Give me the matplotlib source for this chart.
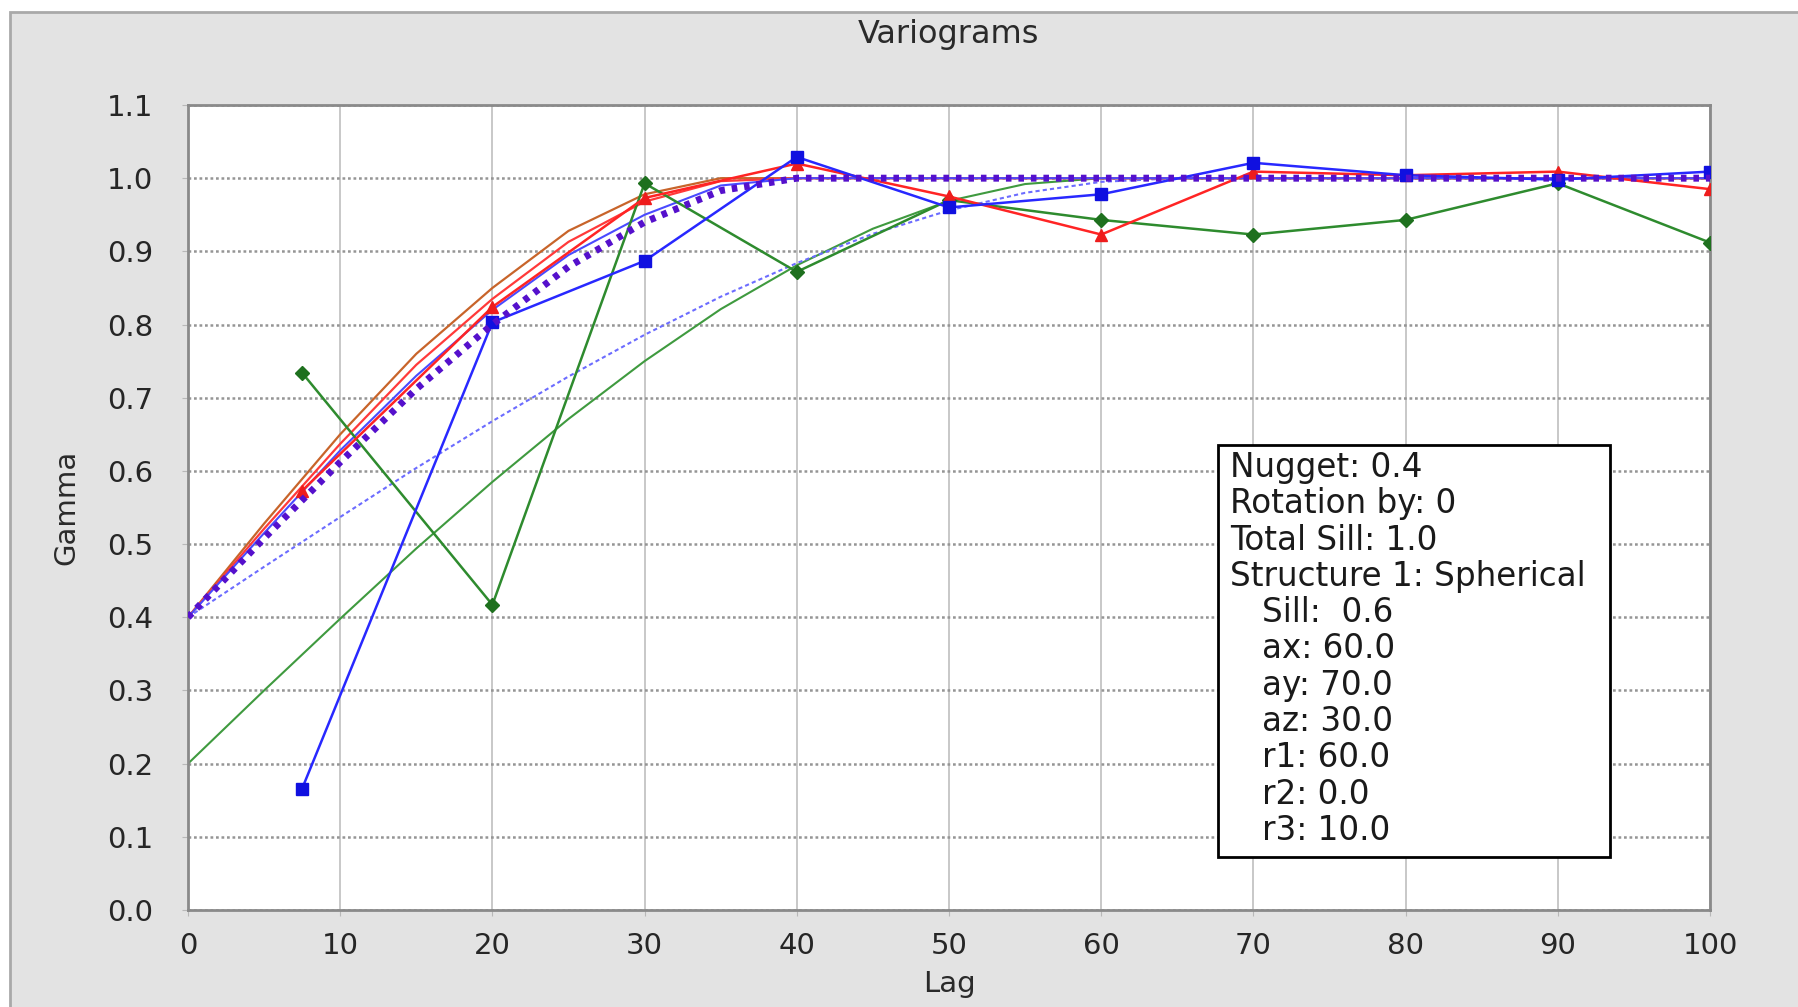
import matplotlib
matplotlib.use("Agg")
import matplotlib.pyplot as plt
from matplotlib.patches import Rectangle

# ---------------- data ----------------
exp_lags = [7.5, 20, 30, 40, 50, 60, 70, 80, 90, 100]
exp_red = [0.573, 0.824, 0.973, 1.020, 0.975, 0.923, 1.009, 1.004, 1.009, 0.985]
exp_blue = [0.166, 0.803, 0.887, 1.029, 0.960, 0.978, 1.021, 1.004, 0.998, 1.009]
exp_green = [0.734, 0.417, 0.993, 0.872, 0.970, 0.943, 0.923, 0.943, 0.993, 0.912]

model_lags = [0, 5, 10, 15, 20, 25, 30, 35, 40, 45, 50, 55, 60, 65, 70, 75, 80, 85, 90, 95, 100]
model_red = [0.400, 0.521, 0.637, 0.745, 0.835, 0.913, 0.968, 0.996, 1.000, 1.000, 1.000,
             1.000, 1.000, 1.000, 1.000, 1.000, 1.000, 1.000, 1.000, 1.000, 1.000]
model_orange = [0.400, 0.528, 0.650, 0.760, 0.850, 0.928, 0.978, 1.000, 1.000, 1.000, 1.000,
                1.000, 1.000, 1.000, 1.000, 1.000, 1.000, 1.000, 1.000, 1.000, 1.000]
model_blue = [0.400, 0.515, 0.628, 0.730, 0.820, 0.895, 0.950, 0.990, 1.000, 1.000, 1.000,
              1.000, 1.000, 1.000, 1.000, 1.000, 1.000, 1.000, 1.000, 1.000, 1.000]
model_purple = [0.400, 0.508, 0.612, 0.712, 0.800, 0.879, 0.940, 0.983, 1.000, 1.000, 1.000,
                1.000, 1.000, 1.000, 1.000, 1.000, 1.000, 1.000, 1.000, 1.000, 1.000]
model_lightblue = [0.400, 0.469, 0.537, 0.604, 0.668, 0.729, 0.786, 0.838, 0.884, 0.924, 0.956,
                   0.980, 0.995, 1.000, 1.000, 1.000, 1.000, 1.000, 1.000, 1.000, 1.000]
model_green = [0.200, 0.300, 0.398, 0.494, 0.585, 0.671, 0.750, 0.821, 0.881, 0.931, 0.969,
               0.992, 1.000, 1.000, 1.000, 1.000, 1.000, 1.000, 1.000, 1.000, 1.000]

x_ticks = [0, 10, 20, 30, 40, 50, 60, 70, 80, 90, 100]
y_ticks = [0.0, 0.1, 0.2, 0.3, 0.4, 0.5, 0.6, 0.7, 0.8, 0.9, 1.0, 1.1]

info_lines = ["Nugget: 0.4", "Rotation by: 0", "Total Sill: 1.0", "Structure 1: Spherical",
              "Sill:  0.6", "ax: 60.0", "ay: 70.0", "az: 30.0", "r1: 60.0", "r2: 0.0", "r3: 10.0"]
info_indent = [False, False, False, False, True, True, True, True, True, True, True]

# ---------------- figure ----------------
W, H = 1798, 1007
fig = plt.figure(figsize=(W / 100, H / 100), dpi=100)
fig.patch.set_facecolor("white")
fig.patches.append(Rectangle((10 / W, -0.01), 1.0, (H - 12) / H + 0.01, transform=fig.transFigure,
                             facecolor="#e3e3e3", edgecolor="#a9a9a9", lw=2, zorder=-10))

ax = fig.add_axes([188 / W, 1 - 910 / H, (1710 - 188) / W, (910 - 105) / H])
ax.set_facecolor("white")

# grid
for xv in x_ticks:
    ax.axvline(xv, color="#c4c4c4", lw=1.3, zorder=0)
for yv in y_ticks:
    ax.axhline(yv, color="#959595", lw=1.8, ls=(0, (1.1, 1.1)), zorder=0)

# model curves
ax.plot(model_lags, model_green, color="#3f9a3f", lw=1.5, zorder=2)
ax.plot(model_lags, model_lightblue, color="#6c6cff", lw=1.5, ls=(0, (2, 1.5)), zorder=2)
ax.plot(model_lags, model_orange, color="#c8642a", lw=1.6, zorder=2)
ax.plot(model_lags, model_red, color="#ff3a3a", lw=1.6, zorder=2)
ax.plot(model_lags, model_blue, color="#4a4aff", lw=1.5, zorder=2)
ax.plot(model_lags, model_purple, color="#5510cc", lw=5.0, ls=(0, (0.8, 1.0)), zorder=4)

# experimental variograms
ax.plot(exp_lags, exp_green, color="#2e8b2e", lw=1.8, marker="D", ms=7.5,
        mfc="#1e701e", mec="#1e701e", zorder=3)
ax.plot(exp_lags, exp_red, color="#ff2424", lw=1.8, marker="^", ms=9,
        mfc="#ee1c1c", mec="#ee1c1c", zorder=3)
ax.plot(exp_lags, exp_blue, color="#2828ff", lw=1.8, marker="s", ms=8,
        mfc="#1010e0", mec="#1010e0", zorder=3)

ax.set_xlim(0, 100)
ax.set_ylim(0, 1.1)
ax.set_xticks(x_ticks)
ax.set_xticklabels([str(v) for v in x_ticks])
ax.set_yticks(y_ticks)
ax.set_yticklabels([f"{v:.1f}" for v in y_ticks])
ax.tick_params(axis="both", length=4, color="#b8b8b8", labelsize=21, labelcolor="#262626")
ax.tick_params(axis="y", pad=21)
ax.tick_params(axis="x", pad=12)
for sp in ax.spines.values():
    sp.set_color("#8a8a8a")
    sp.set_linewidth(2)

# titles / labels
fig.text(949 / W, 1 - 34 / H, "Variograms", ha="center", va="center", fontsize=23, color="#2a2a2a")
fig.text(949 / W, 1 - 984 / H, "Lag", ha="center", va="center", fontsize=21, color="#2a2a2a")
fig.text(66 / W, 1 - 507 / H, "Gamma", ha="center", va="center", rotation=90, fontsize=21,
         color="#2a2a2a")

# info box
fig.patches.append(Rectangle((1218 / W, 1 - 857 / H), (1610 - 1218) / W, (857 - 445) / H,
                             transform=fig.transFigure, facecolor="white", edgecolor="black",
                             lw=2, zorder=5))
base_y = 477
for i, (line, ind) in enumerate(zip(info_lines, info_indent)):
    xpx = 1262 if ind else 1230
    ypx = base_y + i * 36.3
    fig.text(xpx / W, 1 - ypx / H, line, ha="left", va="baseline", fontsize=23.5,
             color="#1a1a1a", zorder=6)

fig.savefig("out.png", dpi=100, facecolor=fig.get_facecolor())
